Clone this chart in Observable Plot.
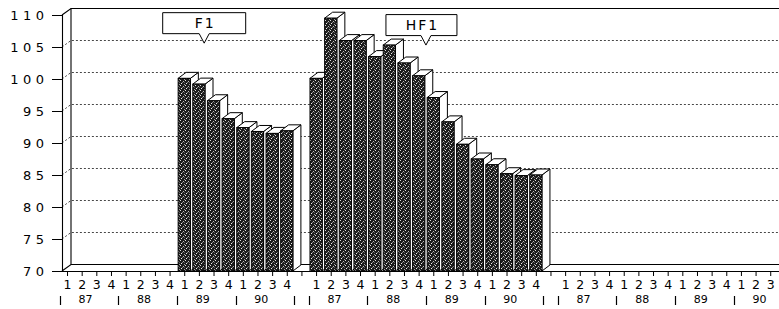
<!DOCTYPE html>
<html><head><meta charset="utf-8">
<script src="https://cdn.jsdelivr.net/npm/d3@7"></script>
<script src="https://cdn.jsdelivr.net/npm/@observablehq/plot@0.6"></script>
<style>
html,body{margin:0;padding:0;background:#fff;overflow:hidden;}
#chart{width:779px;height:309px;overflow:hidden;}
#chart svg{font-family:"DejaVu Sans",sans-serif;}
#chart g[aria-label="y-axis tick label"] text{letter-spacing:4.5px;}
</style></head><body>
<svg width="0" height="0" style="position:absolute">
<defs><pattern id="stipple" width="5" height="5" patternUnits="userSpaceOnUse">
<rect width="5" height="5" fill="#1c1c1c"/>
<rect x="0" y="0" width="1" height="1" fill="#e0e0e0"/>
<rect x="3" y="1" width="1" height="1" fill="#c0c0c0"/>
<rect x="1" y="3" width="1" height="1" fill="#f0f0f0"/>
<rect x="4" y="4" width="1" height="1" fill="#a0a0a0"/>
<rect x="2" y="2" width="1" height="1" fill="#808080"/>
<rect x="4" y="2" width="1" height="1" fill="#606060"/>
</pattern></defs></svg>
<div id="chart"></div>
<script>
// ---- data ----
const years = ["87", "88", "89", "90"];
const quarters = ["1", "2", "3", "4"];
const panels = ["A", "B", "C"];
const f1Periods = ["89-1","89-2","89-3","89-4","90-1","90-2","90-3","90-4"];
const f1Values = [100.1, 99.2, 96.6, 93.8, 92.4, 91.8, 91.5, 91.9];
const hf1Periods = ["87-1","87-2","87-3","87-4","88-1","88-2","88-3","88-4","89-1","89-2","89-3","89-4","90-1","90-2","90-3","90-4"];
const hf1Values = [100.1, 109.5, 106, 106, 103.5, 105.3, 102.5, 100.5, 97.1, 93.3, 89.8, 87.5, 86.6, 85.2, 84.9, 85];
const yTicks = [70, 75, 80, 85, 90, 95, 100, 105, 110];
const calloutLabels = ["F1", "HF1"];
const calloutPanels = ["A", "B"];
const calloutPeriods = ["89-3", "89-1"];
const calloutValues = [105.6, 105.3];

// ---- build tables ----
const slot = (p, per) => `${p}|${per}`;
const slotKeys = [];
panels.forEach((p, pi) => {
  years.forEach(y => quarters.forEach(q => slotKeys.push(slot(p, `${y}-${q}`))));
  if (pi < panels.length - 1) slotKeys.push(`gap${p}`);
});
const bars = [
  ...f1Periods.map((per, i) => ({key: slot("A", per), value: f1Values[i]})),
  ...hf1Periods.map((per, i) => ({key: slot("B", per), value: hf1Values[i]}))
];
const yearRows = [];
const separators = [];
panels.forEach(p => {
  years.forEach(y => {
    yearRows.push({key: slot(p, `${y}-3`), text: y});
    separators.push(slot(p, `${y}-1`));
  });
  if (p !== "C") separators.push(`gap${p}`);
});
const callouts = calloutLabels.map((label, i) => ({label, key: slot(calloutPanels[i], calloutPeriods[i]), value: calloutValues[i]}));

// ---- geometry / style ----
const W = 779, H = 309;
const xRange = [59.7, 792.2];
const step = (xRange[1] - xRange[0]) / slotKeys.length;
const inset = 1.2;
const wallDX = 9, wallDY = -6.5;
const barDX = 8, barDY = -6;
const boxStyle = {F1: {w: 83, shift: 0, tipShift: -2}, HF1: {w: 71, shift: -4.5, tipShift: 0}};
const visibleTicks = slotKeys.filter((k, i) => xRange[0] + step * (i + 0.5) < W - 4);

function walls(index, scales, values, dim) {
  const {y} = scales;
  const L = dim.marginLeft, R = dim.width + 20;
  const g = d3.create("svg:g");
  yTicks.forEach(v => {
    const edge = v === yTicks[0] || v === yTicks[yTicks.length - 1];
    g.append("path")
      .attr("d", `M${L},${y(v)}l${wallDX},${wallDY}H${R}`)
      .attr("fill", "none").attr("stroke", edge ? "#000" : "#333")
      .attr("stroke-width", edge ? 1.1 : 0.9)
      .attr("stroke-dasharray", edge ? null : "2,2");
  });
  g.append("path")
    .attr("d", `M${L + wallDX},${y(yTicks[yTicks.length - 1]) + wallDY}V${y(yTicks[0]) + wallDY}`)
    .attr("stroke", "#000").attr("stroke-width", 1.1);
  return g.node();
}

function barDepth(index, scales) {
  const {x, y} = scales;
  const bw = x.bandwidth ? x.bandwidth() : step;
  const g = d3.create("svg:g").attr("stroke", "#000").attr("stroke-width", 1).attr("fill", "#fff").attr("stroke-linejoin", "round");
  const yb = y(yTicks[0]);
  bars.forEach(b => {
    const x0 = x(b.key) + inset, x1 = x(b.key) + bw - inset, yt = y(b.value);
    g.append("path").attr("d", `M${x1},${yb}V${yt}l${barDX},${barDY}V${yb + barDY}Z`);
    g.append("path").attr("d", `M${x0},${yt}H${x1}l${barDX},${barDY}H${x0 + barDX}Z`);
  });
  return g.node();
}

function yearSeparators(index, scales, values, dim) {
  const {x} = scales;
  const yb = dim.height - dim.marginBottom;
  const g = d3.create("svg:g").attr("stroke", "#000").attr("stroke-width", 1.2);
  separators.forEach(k => {
    const xx = Math.round(x(k)) + 0.5;
    g.append("line").attr("x1", xx).attr("x2", xx).attr("y1", yb + 25).attr("y2", yb + 34);
  });
  return g.node();
}

function calloutBoxes(index, scales) {
  const {x, y} = scales;
  const g = d3.create("svg:g");
  callouts.forEach(c => {
    const s = boxStyle[c.label];
    const tx = x(c.key) + s.tipShift, ty = y(c.value);
    const by1 = ty - 9.5, by0 = by1 - 21;
    const cx = tx + s.shift, bx0 = cx - s.w / 2, bx1 = cx + s.w / 2;
    g.append("path")
      .attr("d", `M${bx0},${by0}H${bx1}V${by1}H${tx + 5}L${tx},${ty}L${tx - 5},${by1}H${bx0}Z`)
      .attr("fill", "#fff").attr("stroke", "#000").attr("stroke-width", 1);
    g.append("text").attr("x", cx + 1).attr("y", (by0 + by1) / 2)
      .attr("dy", "0.36em").attr("text-anchor", "middle")
      .attr("font-size", 14).attr("letter-spacing", "2px").attr("fill", "#000")
      .text(c.label);
  });
  return g.node();
}

const chart = Plot.plot({
  width: W, height: H,
  marginLeft: 62, marginRight: 0, marginTop: 15, marginBottom: 38,
  style: {fontFamily: "DejaVu Sans, sans-serif", background: "#fff", color: "#000"},
  x: {type: "band", domain: slotKeys, range: xRange, padding: 0, axis: null},
  y: {domain: [yTicks[0], yTicks[yTicks.length - 1]], axis: null},
  marks: [
    walls,
    barDepth,
    Plot.barY(bars, {x: "key", y1: () => yTicks[0], y2: "value", fill: "url(#stipple)", stroke: "#000", strokeWidth: 0.9, insetLeft: inset, insetRight: inset}),
    Plot.frame({anchor: "left", stroke: "#000", strokeWidth: 1.1}),
    Plot.frame({anchor: "bottom", stroke: "#000", strokeWidth: 1.1}),
    Plot.axisY({ticks: yTicks, tickSize: 10, tickPadding: 4, fontSize: 13, label: null}),
    Plot.axisX({ticks: visibleTicks, tickSize: 5, tickPadding: 4, fontSize: 12.5, label: null,
      tickFormat: k => k.startsWith("gap") ? "" : k.slice(-1)}),
    Plot.text(yearRows, {x: "key", text: "text", frameAnchor: "bottom", dy: 31, dx: -step / 2 - 4, fontSize: 11, letterSpacing: 2.5}),
    yearSeparators,
    calloutBoxes
  ]
});
document.getElementById("chart").append(chart);
</script>
</body></html>
